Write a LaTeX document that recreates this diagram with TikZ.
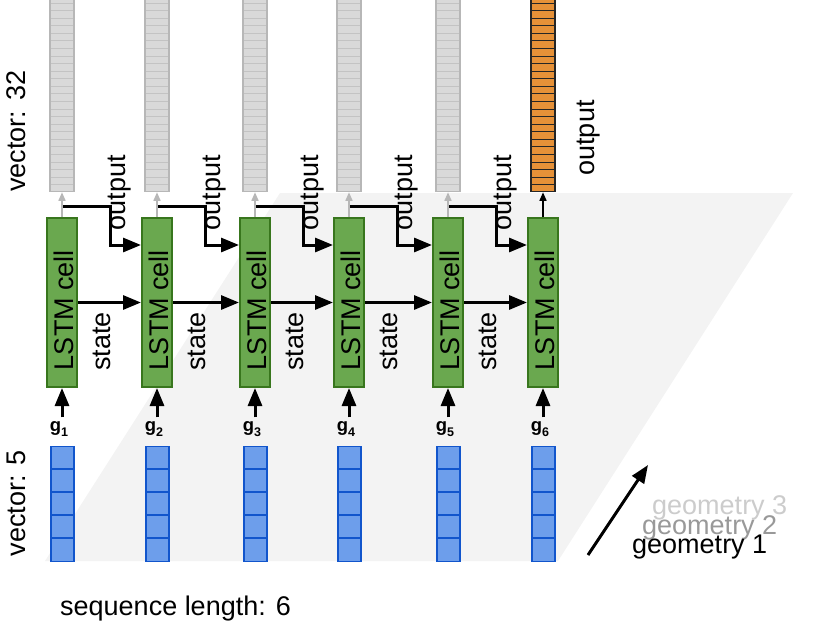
\documentclass[tikz,border=0pt]{standalone}
\usepackage{fontspec}
\setmainfont{Liberation Sans}
\usetikzlibrary{arrows.meta,calc}
\definecolor{bgpar}{HTML}{F3F3F3}
\definecolor{lstmfill}{HTML}{6AA84F}
\definecolor{lstmdraw}{HTML}{38761D}
\definecolor{bluefill}{HTML}{6D9EEB}
\definecolor{bluedraw}{HTML}{1155CC}
\definecolor{grayfill}{HTML}{D9D9D9}
\definecolor{graydraw}{HTML}{B7B7B7}
\definecolor{grayline}{HTML}{C3C3C3}
\definecolor{orangefill}{HTML}{E69138}
\definecolor{geomtwo}{HTML}{999999}
\definecolor{geomthree}{HTML}{CCCCCC}
\begin{document}
\begin{tikzpicture}[x=1pt,y=-1pt,
  font=\fontsize{27}{30}\selectfont,
  lstm/.style={draw=lstmdraw, line width=2pt, fill=lstmfill, minimum width=30pt, minimum height=169pt, inner sep=0pt},
  graybar/.style={draw=graydraw, line width=1.3pt, fill=grayfill, minimum width=24pt, minimum height=242pt, inner sep=0pt, anchor=south},
  orangebar/.style={draw=black!85, line width=1.3pt, fill=orangefill, minimum width=24pt, minimum height=242pt, inner sep=0pt, anchor=south},
  bluebar/.style={draw=bluedraw, line width=1.3pt, fill=bluefill, minimum width=23pt, minimum height=115pt, inner sep=0pt, anchor=north},
  big/.style={line width=3pt, -{Triangle[length=18pt,width=14pt]}},
  garr/.style={draw=graydraw, line width=1.5pt, -{Triangle[length=8.5pt,width=7pt]}},
  barr/.style={draw=black, line width=1.5pt, -{Triangle[length=8.5pt,width=7pt]}},
  rot/.style={rotate=90, inner sep=0pt},
  glabel/.style={anchor=base, inner sep=0pt, font=\fontsize{18.5}{20}\selectfont\bfseries}
]
\useasboundingbox (0,0) rectangle (830,624);
\clip (0,0) rectangle (830,624);

% background parallelogram
\fill[bgpar] (45,561) -- (558,561) -- (793,193) -- (280,193) -- cycle;

% columns
\foreach \i/\c in {1/62,2/157,3/255,4/349,5/448,6/543}{
  \ifnum\i<6
    \node[graybar] (o\i) at (\c,192.3) {};
    \foreach \k in {1,...,27}{\draw[grayline, line width=0.9pt] (\c-11.3,192.3-\k*7.57) -- (\c+11.3,192.3-\k*7.57);}
  \else
    \node[orangebar] (o\i) at (\c,192.3) {};
    \foreach \k in {1,...,27}{\draw[black!85, line width=1pt] (\c-11.3,192.3-\k*7.57) -- (\c+11.3,192.3-\k*7.57);}
  \fi
  \node[lstm] (l\i) at (\c,302.5) {};
  \node[rot] at (\c+1.5,310) {LSTM cell};
  \node[bluebar] (b\i) at (\c+0.5,446) {};
  \foreach \k in {1,...,4}{\draw[bluedraw, line width=1.2pt] (\c-11,446+\k*23) -- (\c+12,446+\k*23);}
  \node[glabel] (g\i) at (\c-3,431) {g\raisebox{-5pt}{\fontsize{12.5}{12}\selectfont\bfseries\i}};
  \draw[big] ($(l\i.south |- g\i.north)+(0,-3.5)$) -- (l\i.south);
}

% output / state connectors
\foreach \i/\j/\c in {1/2/62,2/3/157,3/4/255,4/5/349,5/6/448}{
  \draw[big] ([yshift=11pt]l\i.north) -- ++(48,0) |- ([yshift=57.5pt]l\j.west);
  \draw[big] (l\i.east) -- (l\j.west);
  \node[rot] at (\c+57.5,192.5) {output};
  \node[rot] at (\c+39.5,341.5) {state};
}
\foreach \i in {1,...,5}{\draw[garr] (l\i.north) -- (o\i.south);}
\draw[barr] (l6.north) -- (o6.south);

\node[rot] at (589,138) {output};
\node[rot] at (16.5,131) {vector: 32};
\node[rot] at (16.5,503) {vector: 5};
\node[anchor=base west, inner sep=0pt] (seq) at (60,615) {sequence length: 6};

\node[anchor=base west, inner sep=0pt, text=geomthree] (geo3) at (652,514) {geometry 3};
\node[anchor=base west, inner sep=0pt, text=geomtwo] (geo2) at (642,534) {geometry 2};
\node[anchor=base west, inner sep=0pt] (geo1) at (632,553) {geometry 1};
\coordinate (ga) at (588,555);
\coordinate (gb) at (648,465);
\draw[big] (ga) -- (gb);
\end{tikzpicture}
\end{document}
